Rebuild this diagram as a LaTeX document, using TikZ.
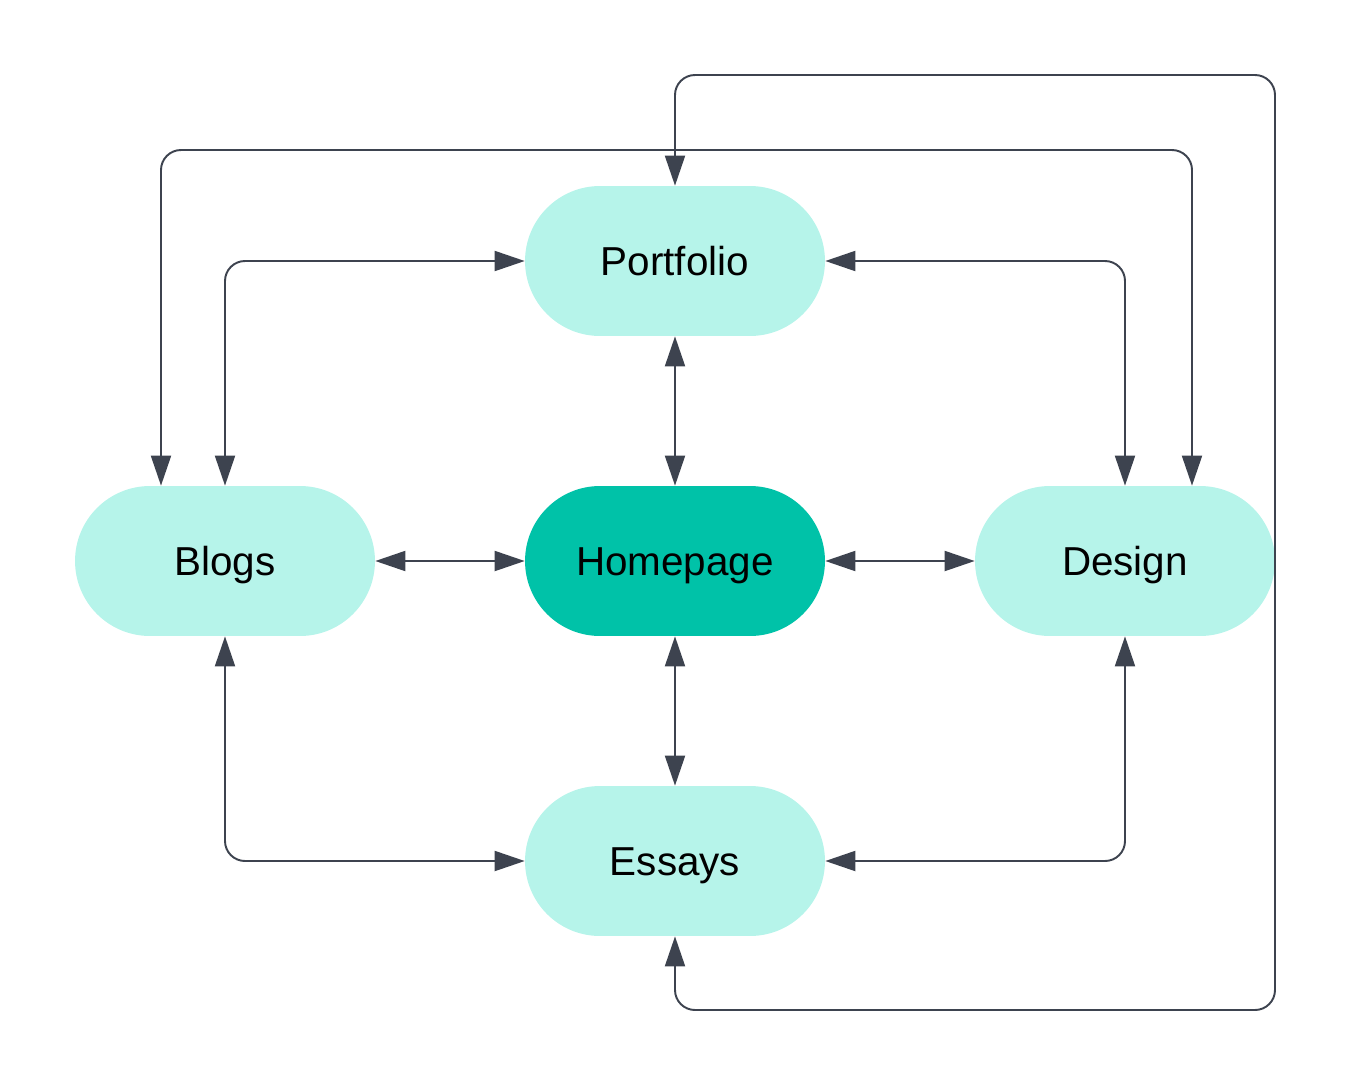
\documentclass[tikz,border=0pt]{standalone}
\usepackage{fontspec}
\setmainfont{Liberation Sans}
\usetikzlibrary{arrows.meta}
\definecolor{pagelight}{HTML}{B6F4EA}
\definecolor{pagedark}{HTML}{00C2A8}
\definecolor{linkgray}{HTML}{3D434F}
\tikzset{
  page/.style={rectangle, rounded corners=1.5cm, minimum width=6cm, minimum height=3cm,
    fill=pagelight, draw=none, font=\fontsize{23}{28}\selectfont,
    text height=16.5pt, text depth=0pt},
  home/.style={page, fill=pagedark},
  link/.style={draw=linkgray, line width=1.1pt, rounded corners=0.4cm,
    {Triangle[length=0.6cm,width=0.4cm]}-{Triangle[length=0.6cm,width=0.4cm]}}
}
\begin{document}
\begin{tikzpicture}[x=0.02cm,y=-0.02cm]
      \useasboundingbox (0,0) rectangle (1350,1086);
      %%%%%%%%%%%%%%%%%%%%%%%%%%%%%%%%%%%%%%%%%%%%%%%
      \node[page] at (675,261)  (portfolio) {Portfolio};
      \node[page] at (225,561)  (blogs)     {Blogs};
      \node[home] at (675,561)  (homepage)  {Homepage};
      \node[page] at (1125,561) (design)    {Design};
      \node[page] at (675,861)  (essays)    {Essays};
      %%%%%%%%%%%%%%%%%%%%%%%%%%%%%%%%%%%%%%%%%%%%%%%
      \coordinate (bl) at (161,150);
      \coordinate (dr) at (1192,150);
      \coordinate (tr) at (1275,75);
      \coordinate (br) at (1275,1010);
      %%%%%%%%%%%%%%%%%%%%%%%%%%%%%%%%%%%%%%%%%%%%%%%
      \draw[link] (portfolio) -- (homepage);
      \draw[link] (blogs) -- (homepage);
      \draw[link] (homepage) -- (design);
      \draw[link] (homepage) -- (essays);
      \draw[link] (blogs.north) |- (portfolio.west);
      \draw[link] (portfolio.east) -| (design.north);
      \draw[link] (blogs.south) |- (essays.west);
      \draw[link] (design.south) |- (essays.east);
      \draw[link] (blogs.north -| bl) -- (bl) -- (dr) -- (design.north -| dr);
      \draw[link] (portfolio.north) |- (tr) -- (br) -| (essays.south);
      %%%%%%%%%%%%%%%%%%%%%%%%%%%%%%%%%%%%%%%%%%%%%%%
\end{tikzpicture}
\end{document}
